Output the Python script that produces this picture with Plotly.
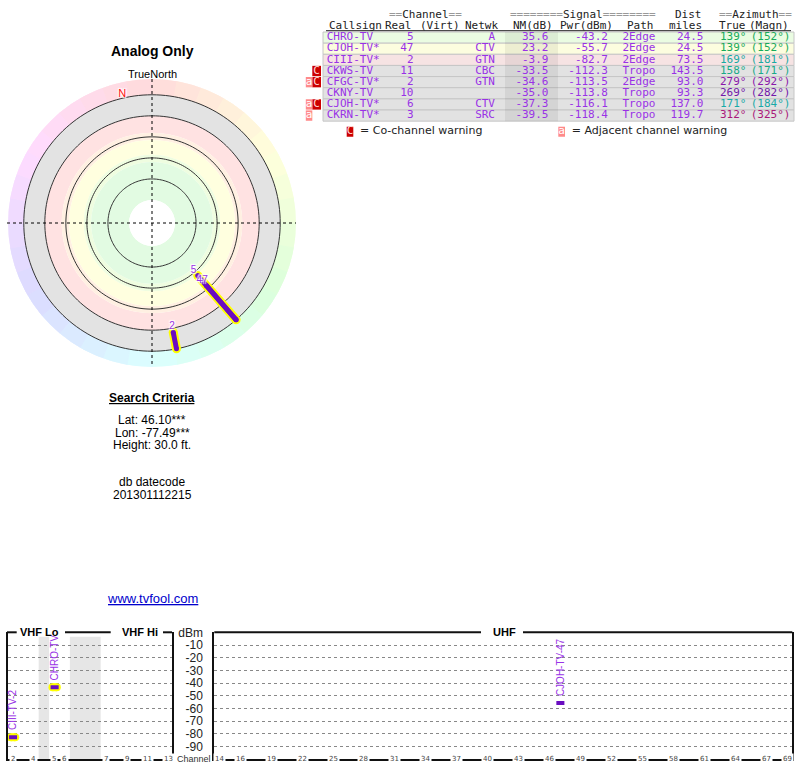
import plotly.graph_objects as go

# ---------------- data ----------------
callsigns = ["CHRO-TV", "CJOH-TV*", "CIII-TV*", "CKWS-TV", "CFGC-TV*", "CKNY-TV", "CJOH-TV*", "CKRN-TV*"]
real_ch = [5, 47, 2, 11, 2, 10, 6, 3]
networks = ["A", "CTV", "GTN", "CBC", "GTN", "", "CTV", "SRC"]
nm_db = [35.6, 23.2, -3.9, -33.5, -34.6, -35.0, -37.3, -39.5]
pwr_dbm = [-43.2, -55.7, -82.7, -112.3, -113.5, -113.8, -116.1, -118.4]
paths = ["2Edge", "2Edge", "2Edge", "Tropo", "2Edge", "Tropo", "Tropo", "Tropo"]
dist_mi = [24.5, 24.5, 73.5, 143.5, 93.0, 93.3, 137.0, 119.7]
az_true = [139, 139, 169, 158, 279, 269, 171, 312]
az_magn = [152, 152, 181, 171, 292, 282, 184, 325]
adj_warn = [False, False, False, False, True, False, True, True]
co_warn = [False, False, False, True, True, False, True, False]

radar_rings = [-20, 0, 20, 40, 60]
dbm_ticks = [0, -10, -20, -30, -40, -50, -60, -70, -80, -90]
dbm_labels = ["dBm", "-10", "-20", "-30", "-40", "-50", "-60", "-70", "-80", "-90"]
vhf_tick_ch = [2, 4, 5, 6, 7, 9, 11, 13]
uhf_tick_ch = [14, 16, 19, 22, 25, 28, 31, 34, 37, 40, 43, 46, 49, 52, 55, 58, 61, 64, 67, 69]

title_text = "Analog Only"
north_label = "TrueNorth"
criteria_title = "Search Criteria"
criteria_lines = ["Lat: 46.10***", "Lon: -77.49***", "Height: 30.0 ft."]
datecode_lines = ["db datecode", "201301112215"]
site_url = "www.tvfool.com"

# ---------------- helpers ----------------
W, H = 800, 768


def px(x):
    return x / W


def py(y):
    return 1 - y / H


PURPLE_TXT = "#9932e6"
PURPLE_LINE = "#6a0dc0"
YELLOW = "#ffff00"
MONO = "DejaVu Sans Mono"
SANS = "Liberation Sans"
n = len(callsigns)


def vhf_slot(ch):
    if ch <= 4:
        return ch - 2
    if ch <= 6:
        return ch - 1
    return ch + 2


def uhf_slot(ch):
    return ch - 14


def row_color(v):
    if v >= 30:
        return "#eafce2"
    if v >= 10:
        return "#fcfddf"
    if v >= -10:
        return "#f6e3e3"
    return "#e2e2e2"


def az_color(a):
    return "hsl(%d,75%%,38%%)" % ((a + 8) % 360)


fig = go.Figure()

# ---------------- radar (polar) ----------------
wedge_theta = list(range(5, 360, 10))
wedge_cols = ["hsl(%d,100%%,93%%)" % t for t in wedge_theta]
fig.add_trace(go.Barpolar(r=[15] * len(wedge_theta), base=[-35] * len(wedge_theta),
                          theta=wedge_theta, width=[10] * len(wedge_theta),
                          marker=dict(color=wedge_cols, line=dict(color=wedge_cols, width=1)),
                          subplot="polar"))
bands = [(-20, 0, "#e3e3e3"), (0, 16, "#ffe2e2"), (16, 23, "#fff0e2"), (23, 37, "#ffffdf"),
         (37, 44, "#effde0"), (44, 80, "#e2fbe2")]
for lo, hi, col in bands:
    fig.add_trace(go.Barpolar(r=[hi - lo], base=[lo], theta=[180], width=[360],
                              marker=dict(color=col, line=dict(width=0)), subplot="polar"))

# ring circles (radial grid) drawn above the coloured bands
ring_r, ring_t = [], []
circle_theta = list(range(0, 361, 2))
for rv in radar_rings:
    ring_r += [rv] * len(circle_theta) + [None]
    ring_t += circle_theta + [None]
fig.add_trace(go.Scatterpolar(r=ring_r, theta=ring_t, mode="lines", line=dict(color="#333", width=1),
                              subplot="polar"))

radar_idx = [i for i in range(n) if nm_db[i] > -20]
ry, ty, pr_, pt_ = [], [], [], []
for i in radar_idx:
    if real_ch[i] <= 13:
        ry += [nm_db[i], -20, None]
        ty += [az_true[i], az_true[i], None]
    pr_ += [nm_db[i], -20, None]
    pt_ += [az_true[i], az_true[i], None]
fig.add_trace(go.Scatterpolar(r=ry, theta=ty, mode="lines+markers", line=dict(color=YELLOW, width=9),
                              marker=dict(color=YELLOW, size=9, line=dict(width=0)), subplot="polar"))
fig.add_trace(go.Scatterpolar(r=pr_, theta=pt_, mode="lines+markers", line=dict(color=PURPLE_LINE, width=5),
                              marker=dict(color=PURPLE_LINE, size=5, line=dict(width=0)), subplot="polar"))
fig.add_trace(go.Scatterpolar(r=[nm_db[i] + 6 for i in radar_idx], theta=[az_true[i] for i in radar_idx],
                              mode="text", text=[str(real_ch[i]) for i in radar_idx],
                              textfont=dict(family=SANS, size=10, color=PURPLE_TXT, shadow="auto"),
                              subplot="polar"))
mag_north = (az_true[0] - az_magn[0]) % 360
fig.add_trace(go.Scatterpolar(r=[-24], theta=[mag_north], mode="text", text=["N"],
                              textfont=dict(family=SANS, size=11, color="#ff1010", shadow="auto"),
                              subplot="polar"))

# ---------------- table ----------------
rows = list(range(n))
fig.add_trace(go.Bar(orientation="h", y=rows, x=[471] * n, base=[323] * n, width=[1] * n,
                     marker=dict(color=[row_color(v) for v in nm_db], line=dict(color="#c6c6c6", width=1)),
                     xaxis="x", yaxis="y"))
fig.add_trace(go.Bar(orientation="h", y=rows, x=[53] * n, base=[505] * n, width=[1] * n,
                     marker=dict(color="rgba(0,0,0,0.06)", line=dict(width=0)), xaxis="x", yaxis="y"))
c_rows = [i for i in rows if co_warn[i]]
a_rows = [i for i in rows if adj_warn[i]]
fig.add_trace(go.Bar(orientation="h", y=c_rows, x=[8.7] * len(c_rows), base=[312.3] * len(c_rows),
                     width=[0.93] * len(c_rows), marker=dict(color="#cc0000", line=dict(width=0)),
                     xaxis="x", yaxis="y"))
fig.add_trace(go.Bar(orientation="h", y=a_rows, x=[6.5] * len(a_rows), base=[305.8] * len(a_rows),
                     width=[0.93] * len(a_rows), marker=dict(color="#ff8a8a", line=dict(width=0)),
                     xaxis="x", yaxis="y"))
fig.add_trace(go.Scatter(x=[316.6] * len(c_rows), y=c_rows, mode="text", text=["C"] * len(c_rows),
                         textfont=dict(family=MONO, size=11, color="#ffd6d6"), xaxis="x", yaxis="y"))
fig.add_trace(go.Scatter(x=[309.0] * len(a_rows), y=a_rows, mode="text", text=["a"] * len(a_rows),
                         textfont=dict(family=MONO, size=11, color="white"), xaxis="x", yaxis="y"))

LEG_Y = 8.45
fig.add_trace(go.Bar(orientation="h", y=[LEG_Y, LEG_Y], x=[6.6, 6.7], base=[346.7, 558.3], width=[0.9, 0.9],
                     marker=dict(color=["#cc0000", "#ff8a8a"], line=dict(width=0)), xaxis="x", yaxis="y"))
fig.add_trace(go.Scatter(x=[350.0, 561.6], y=[LEG_Y, LEG_Y], mode="text", text=["C", "a"],
                         textfont=dict(family=MONO, size=11, color=["#ffd6d6", "white"]), xaxis="x", yaxis="y"))
fig.add_trace(go.Scatter(x=[360, 571.7], y=[LEG_Y, LEG_Y], mode="text",
                         text=["= Co-channel warning", "= Adjacent channel warning"], textposition="middle right",
                         textfont=dict(family="DejaVu Sans", size=11, color="#222"), xaxis="x", yaxis="y"))

columns = [
    (callsigns, 326.7, "middle right", None),
    ([str(c) for c in real_ch], 413.5, "middle left", None),
    (networks, 495.0, "middle left", None),
    (["%.1f" % v for v in nm_db], 548.5, "middle left", None),
    (["%.1f" % v for v in pwr_dbm], 608.0, "middle left", None),
    (paths, 655.5, "middle left", None),
    (["%.1f" % v for v in dist_mi], 703.5, "middle left", None),
    (["%d°" % v for v in az_true], 746.5, "middle left", [az_color(a) for a in az_true]),
    (["(%d°)" % v for v in az_magn], 790.5, "middle left", [az_color(a) for a in az_true]),
]
for texts, xpos, tpos, cols in columns:
    fig.add_trace(go.Scatter(x=[xpos] * n, y=rows, mode="text", text=texts, textposition=tpos,
                             textfont=dict(family=MONO, size=11, color=cols if cols else PURPLE_TXT),
                             xaxis="x", yaxis="y"))

annotations = []
EQ = "<span style='color:#999'>%s</span>"
hdr1 = [("%sChannel%s" % (EQ % "==", EQ % "=="), 387, "left"),
        ("%sSignal%s" % (EQ % "========", EQ % "========"), 508, "left"),
        ("Dist", 703.5, "right"),
        ("%sAzimuth%s" % (EQ % "==", EQ % "=="), 717, "left")]
hdr2 = [("Callsign", 326.7, "left"), ("Real", 413.5, "right"), ("(Virt)", 418, "left"),
        ("Netwk", 499.5, "right"), ("NM(dB)", 555, "right"), ("Pwr(dBm)", 615, "right"),
        ("Path", 655.5, "right"), ("miles", 703.5, "right"), ("True", 717, "left"), ("(Magn)", 790.5, "right")]
for rowy, items in ((-2.03, hdr1), (-1.13, hdr2)):
    for t, xx, anc in items:
        annotations.append(dict(text=t, x=xx, y=rowy, xref="x", yref="y", xanchor=anc, yanchor="middle",
                                showarrow=False, font=dict(family=MONO, size=11, color="#222")))


# ---------------- left column texts ----------------
def add_text(t, x, y, size, color="black", family=SANS):
    annotations.append(dict(text=t, x=px(x), y=py(y), xref="paper", yref="paper", xanchor="center",
                            yanchor="middle", showarrow=False, font=dict(family=family, size=size, color=color)))


add_text("<b>%s</b>" % title_text, 152, 51, 14)
add_text(north_label, 152, 74, 11)
add_text("<b><u>%s</u></b>" % criteria_title, 152, 397.7, 12)
for k, t in enumerate(criteria_lines):
    add_text(t, 152, 420 + k * 12.5, 12)
for k, t in enumerate(datecode_lines):
    add_text(t, 152, 481.7 + k * 13.3, 12)
add_text("<u>%s</u>" % site_url, 152, 598, 13, color="#0000cc")

# ---------------- spectrum ----------------
spec_idx = [i for i in range(n) if pwr_dbm[i] > -100]
for axn, pick, slotf in (("2", lambda c: c <= 13, vhf_slot), ("3", lambda c: c >= 14, uhf_slot)):
    yx, yy, qx, qy = [], [], [], []
    for i in spec_idx:
        if not pick(real_ch[i]):
            continue
        s = slotf(real_ch[i])
        if real_ch[i] <= 13:
            yx += [s + 0.32, s + 0.74, None]
            yy += [pwr_dbm[i], pwr_dbm[i], None]
        qx += [s + 0.14, s + 0.92, None]
        qy += [pwr_dbm[i], pwr_dbm[i], None]
        base = callsigns[i].rstrip("*")
        lab = base + ("-%d" % real_ch[i] if callsigns[i].endswith("*") else "")
        annotations.append(dict(text=lab, x=s + 0.5, y=pwr_dbm[i], xref="x" + axn, yref="y" + axn,
                                xanchor="center", yanchor="bottom", yshift=5, textangle=-90, showarrow=False,
                                font=dict(family=SANS, size=10, color=PURPLE_TXT)))
    if yx:
        fig.add_trace(go.Scatter(x=yx, y=yy, mode="lines+markers", line=dict(color=YELLOW, width=8),
                                 marker=dict(color=YELLOW, size=8, line=dict(width=0)),
                                 xaxis="x" + axn, yaxis="y" + axn))
    fig.add_trace(go.Scatter(x=qx, y=qy, mode="lines", line=dict(color=PURPLE_LINE, width=4),
                             xaxis="x" + axn, yaxis="y" + axn))

for ch in vhf_tick_ch:
    annotations.append(dict(text=str(ch), x=vhf_slot(ch) + 0.5, y=-100, xref="x2", yref="y2",
                            xanchor="center", yanchor="middle", showarrow=False, bgcolor="white", borderpad=1,
                            font=dict(family="DejaVu Sans", size=7, color="#444")))
for ch in uhf_tick_ch:
    annotations.append(dict(text=str(ch), x=uhf_slot(ch) + 0.5, y=-100, xref="x3", yref="y3",
                            xanchor="center", yanchor="middle", showarrow=False, bgcolor="white", borderpad=1,
                            font=dict(family="DejaVu Sans", size=7, color="#444")))
annotations.append(dict(text="Channel", x=px(193.5), y=py(758.5), xref="paper", yref="paper", xanchor="center",
                        yanchor="middle", showarrow=False, font=dict(family=SANS, size=9, color="#333")))
for t, xc in (("VHF Lo", 39.5), ("VHF Hi", 140), ("UHF", 504)):
    annotations.append(dict(text="<b>%s</b>" % t, x=px(xc), y=py(632.3), xref="paper", yref="paper",
                            xanchor="center", yanchor="middle", showarrow=False,
                            font=dict(family=SANS, size=11, color="black")))

shapes = [
    dict(type="line", xref="paper", yref="paper", x0=px(7), x1=px(296), y0=py(223), y1=py(223),
         line=dict(color="black", width=1, dash="dot")),
    dict(type="line", xref="paper", yref="paper", x0=px(152), x1=px(152), y0=py(79), y1=py(367),
         line=dict(color="black", width=1, dash="dot")),
    dict(type="line", xref="x", yref="y", x0=326, x1=791, y0=-0.62, y1=-0.62, line=dict(color="#222", width=1)),
    dict(type="rect", xref="x2", yref="y2", x0=vhf_slot(4) + 1, x1=vhf_slot(5), y0=-100, y1=-3.5,
         fillcolor="#e6e6e6", line=dict(width=0), layer="below"),
    dict(type="rect", xref="x2", yref="y2", x0=vhf_slot(6) + 1, x1=vhf_slot(7) - 0.04, y0=-100, y1=-3.5,
         fillcolor="#e6e6e6", line=dict(width=0), layer="below"),
]
for a, b in ((7, 16.7), (65, 110.7), (163, 172), (214.3, 481), (523, 792.3)):
    shapes.append(dict(type="line", xref="paper", yref="paper", x0=px(a), x1=px(b), y0=py(632.3), y1=py(632.3),
                       line=dict(color="#111", width=2)))

spec_y_dom = [py(759.3), py(632.3)]
common_x = dict(showgrid=False, zeroline=False, showticklabels=False, ticks="", showline=True,
                linecolor="#111", linewidth=2, fixedrange=True, automargin=False)
common_y = dict(range=[-100, 0], showgrid=True, gridcolor="#888", griddash="dot", gridwidth=1,
                zeroline=False, ticks="", showline=True, mirror=True, linecolor="#111", linewidth=2,
                fixedrange=True, domain=spec_y_dom, automargin=False)

fig.update_layout(
    width=W, height=H, margin=dict(l=0, r=0, t=0, b=0, pad=0, autoexpand=False), autosize=False,
    paper_bgcolor="white", plot_bgcolor="rgba(0,0,0,0)", showlegend=False, barmode="overlay",
    hovermode=False,
    xaxis=dict(domain=[0.375, 1], range=[300, 800], visible=False, fixedrange=True, automargin=False),
    yaxis=dict(domain=[py(140), 1], range=[(140 - 37.6) / 11.14, -37.6 / 11.14], visible=False,
               fixedrange=True, automargin=False),
    xaxis2=dict(domain=[px(7.5), px(172)], range=[0, 15.82], anchor="y2", **common_x),
    yaxis2=dict(anchor="x2", tickvals=dbm_ticks[1:], showticklabels=False, **common_y),
    xaxis3=dict(domain=[px(214.3), px(792.3)], range=[0, 56], anchor="y3", **common_x),
    yaxis3=dict(anchor="x3", tickvals=dbm_ticks, ticktext=dbm_labels, showticklabels=True,
                ticklabelstandoff=7, tickfont=dict(family=SANS, size=12, color="#222"), **common_y),
    polar=dict(domain=dict(x=[px(8), px(296)], y=[py(367), py(79)]), hole=23 / 144,
               bgcolor="rgba(0,0,0,0)", barmode="overlay",
               radialaxis=dict(range=[80, -35], tickvals=radar_rings, showticklabels=False, ticks="",
                               showline=False, showgrid=False),
               angularaxis=dict(direction="clockwise", rotation=90, showgrid=False, showticklabels=False,
                                ticks="", showline=False)),
    annotations=annotations, shapes=shapes,
)

page_fix = (
    "document.documentElement.style.margin='0px';document.documentElement.style.overflow='hidden';"
    "document.body.style.margin='0px';document.body.style.padding='0px';document.body.style.overflow='hidden';"
    "var gd=document.getElementsByClassName('plotly-graph-div')[0];"
    "gd.style.position='absolute';gd.style.left='0px';gd.style.top='0px';"
)
fig.write_html("out.html", config={"displayModeBar": False}, post_script=page_fix)
